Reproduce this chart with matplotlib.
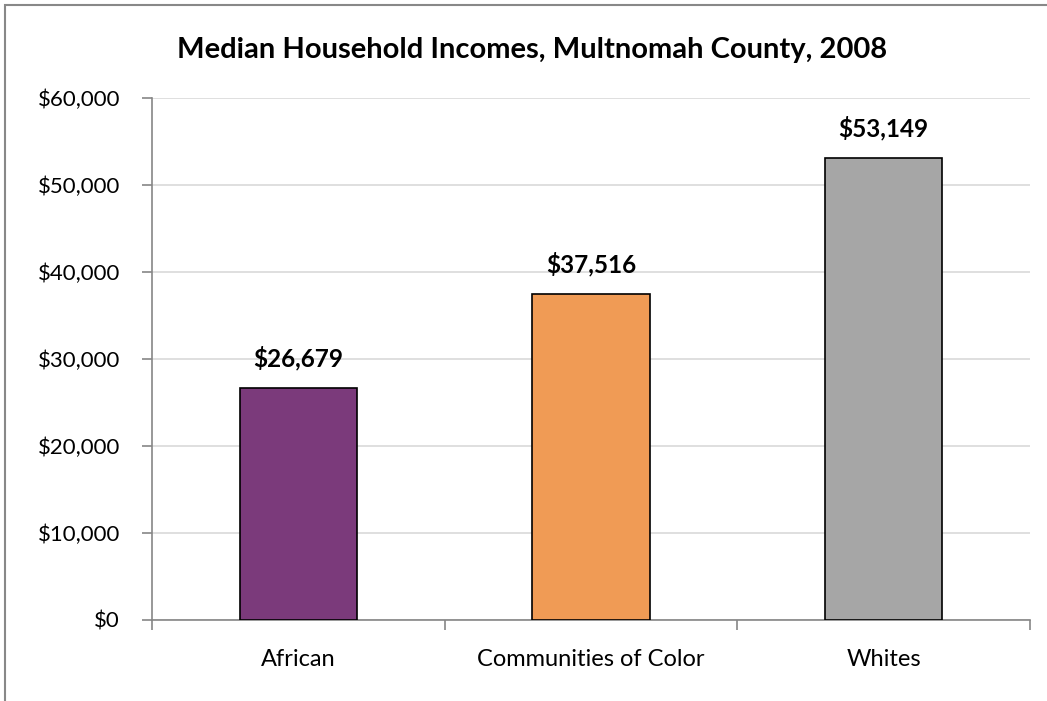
import matplotlib.pyplot as plt
from matplotlib.patches import Rectangle
from matplotlib.ticker import FuncFormatter, MultipleLocator

categories = ['African', 'Communities of Color', 'Whites']
incomes = [26679, 37516, 53149]
colors = ['#7B3A7B', '#F09B55', '#A6A6A6']

plt.rcParams['font.family'] = ['Lato', 'DejaVu Sans']

fig = plt.figure(figsize=(10.47, 7.01), dpi=100)
W, H = 1047, 701
ax = fig.add_axes([152 / W, 1 - 620 / H, (1030 - 152) / W, (620 - 98) / H])

# chart border (cropped on the right and bottom)
fig.patches.append(Rectangle((5 / W, -0.1), 1.2, 1 - 5 / H + 0.1, transform=fig.transFigure,
                             fill=False, edgecolor='#888888', linewidth=1.5))

x = range(len(categories))
ax.bar(x, incomes, width=0.4, color=colors, edgecolor='black', linewidth=1.2, zorder=3)
for i, v in enumerate(incomes):
    ax.text(i, v + 2000, '${:,}'.format(v), ha='center', va='bottom',
            fontsize=17.5, fontweight='bold')

ax.set_xlim(-0.5, 2.5)
ax.set_ylim(0, 60000)
ax.yaxis.set_major_locator(MultipleLocator(10000))
ax.yaxis.set_major_formatter(FuncFormatter(lambda v, p: '${:,.0f}'.format(v)))
ax.grid(axis='y', color='#D9D9D9', linewidth=1.2, zorder=0)
ax.set_xticks([-0.5, 0.5, 1.5, 2.5])
ax.set_xticklabels([])
ax.set_xticks([0, 1, 2], minor=True)
ax.set_xticklabels(categories, minor=True)
ax.tick_params(axis='x', which='major', length=7, color='#868686', width=1.2)
ax.tick_params(axis='x', which='minor', length=0, labelsize=17, pad=21)
ax.tick_params(axis='y', length=7, color='#868686', width=1.2, labelsize=16, pad=16)

for s in ['top', 'right']:
    ax.spines[s].set_visible(False)
for s in ['left', 'bottom']:
    ax.spines[s].set_color('#868686')
    ax.spines[s].set_linewidth(1.2)

fig.text(532 / W, 1 - 50 / H, 'Median Household Incomes, Multnomah County, 2008',
         ha='center', va='center', fontsize=21, fontweight='bold')

fig.savefig('out.png', dpi=100)
